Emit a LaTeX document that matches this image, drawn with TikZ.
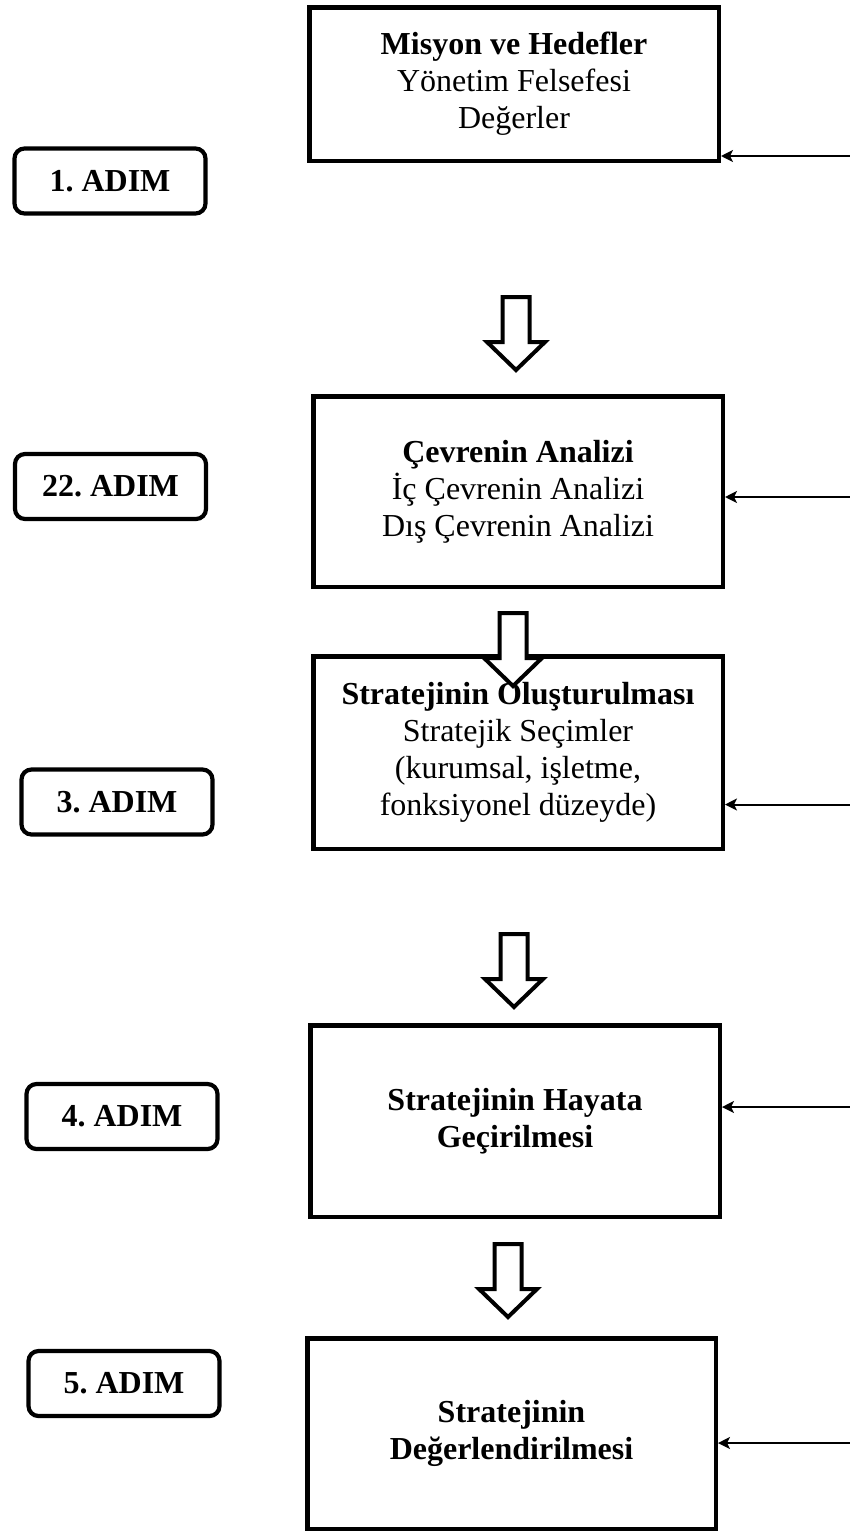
\documentclass[tikz,border=0pt]{standalone}
\usepackage{fontspec}
\setmainfont{Liberation Serif}
\usetikzlibrary{arrows.meta}
\frenchspacing
\begin{document}
\begin{tikzpicture}[x=1pt,y=-1pt,
  box/.style={draw, line width=4.5pt, align=center, inner sep=0pt,
    minimum width=409.5pt, font=\fontsize{32}{37}\selectfont},
  adim/.style={draw, line width=4.2pt, rounded corners=10pt, minimum width=191pt,
    minimum height=65pt, inner sep=0pt, font=\fontsize{32}{37}\selectfont\bfseries},
  feed/.style={line width=2pt, -{Stealth[length=12pt,width=12pt,inset=3pt]}},
  hollow/.pic={\draw[line width=4pt, fill=white, miter limit=10]
    (-13.5,0) -- (13.5,0) -- (13.5,45) -- (29,45) -- (0,73) -- (-29,45) -- (-13.5,45) -- cycle;}
]
\useasboundingbox (0,0) rectangle (850,1531);

% main boxes
\node[box, minimum height=153.5pt] (b1) at (514,84)
  {\textbf{Misyon ve Hedefler}\\Yönetim Felsefesi\\Değerler};
\node[box, minimum height=190.5pt] (b2) at (518,491.5)
  {\textbf{Çevrenin Analizi}\\İç Çevrenin Analizi\\Dış Çevrenin Analizi};
\node[box, minimum height=192.5pt] (b3) at (518,752.5)
  {\textbf{Stratejinin Oluşturulması}\\Stratejik Seçimler\\(kurumsal, işletme,\\fonksiyonel düzeyde)};
\node[box, minimum height=191.5pt] (b4) at (515,1121)
  {\textbf{Stratejinin Hayata}\\\textbf{Geçirilmesi}};
\node[box, minimum height=190.5pt, minimum width=408.5pt] (b5) at (511.5,1433.5)
  {\textbf{Stratejinin}\\\textbf{Değerlendirilmesi}};

% step labels
\node[adim] (a1) at (110,181) {1. ADIM};
\node[adim] (a2) at (110.5,486.5) {22. ADIM};
\node[adim] (a3) at (117,802) {3. ADIM};
\node[adim] (a4) at (122,1116.5) {4. ADIM};
\node[adim] (a5) at (124,1383.5) {5. ADIM};

% hollow down arrows
\pic at (516,297) {hollow};
\pic at (513,613) {hollow};
\pic at (514,934) {hollow};
\pic at (508,1244) {hollow};

% feedback arrows from the right edge
\coordinate (r1) at (850,156);
\coordinate (r2) at (850,497);
\coordinate (r3) at (850,804.5);
\coordinate (r4) at (850,1107);
\coordinate (r5) at (850,1443);
\draw[feed] (r1) -- (b1.east |- r1);
\draw[feed] (r2) -- (b2.east |- r2);
\draw[feed] (r3) -- (b3.east |- r3);
\draw[feed] (r4) -- (b4.east |- r4);
\draw[feed] (r5) -- (b5.east |- r5);
\end{tikzpicture}
\end{document}
